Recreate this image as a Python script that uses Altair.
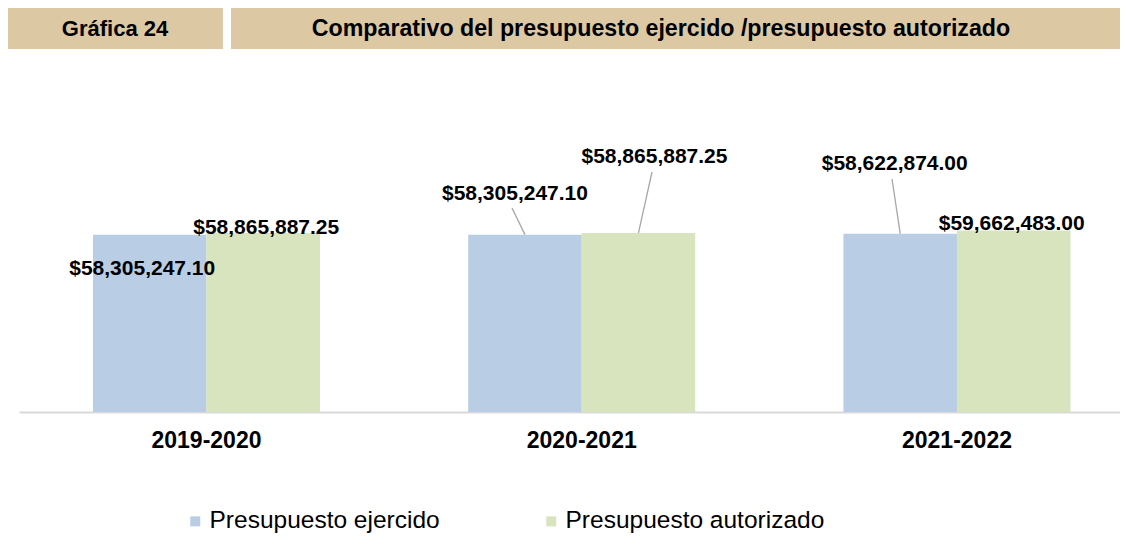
import altair as alt
import pandas as pd

# ---- data ----
periodos = ["2019-2020", "2020-2021", "2021-2022"]
series = ["Presupuesto ejercido", "Presupuesto autorizado"]
ejercido = [58305247.10, 58305247.10, 58622874.00]
autorizado = [58865887.25, 58865887.25, 59662483.00]
header_texts = ["Gráfica 24", "Comparativo del presupuesto ejercido /presupuesto autorizado"]

colores = ["#B9CDE5", "#D7E4BD"]
FONT = "Liberation Sans"

rows = []
for i, p in enumerate(periodos):
    rows.append({"periodo": p, "serie": series[0], "valor": ejercido[i]})
    rows.append({"periodo": p, "serie": series[1], "valor": autorizado[i]})
df = pd.DataFrame(rows)

x_enc = alt.X(
    "periodo:N",
    sort=periodos,
    scale=alt.Scale(paddingInner=0.395, paddingOuter=0.1645, align=0.599),
    axis=alt.Axis(
        title=None, labelAngle=0, labelFont=FONT, labelFontSize=23,
        labelFontWeight="bold", labelColor="#000000", ticks=False,
        domainColor="#D9D9D9", domainWidth=2, labelPadding=17, grid=False,
    ),
)
xo_enc = alt.XOffset("serie:N", sort=series, scale=alt.Scale(paddingInner=0, paddingOuter=0))
y_enc = alt.Y("valor:Q", scale=alt.Scale(domain=[0, 120000000], nice=False), axis=None)

base = alt.Chart(df)

bars = base.mark_bar().encode(
    x=x_enc,
    xOffset=xo_enc,
    y=y_enc,
    color=alt.Color(
        "serie:N", sort=series,
        scale=alt.Scale(domain=series, range=colores),
        legend=alt.Legend(
            title=None, orient="none", legendX=164, legendY=462,
            direction="horizontal", symbolType="square", symbolSize=100,
            symbolStrokeWidth=0, labelFont=FONT, labelFontSize=24.5,
            labelColor="#000000", labelOffset=2, columnPadding=99,
            labelLimit=400,
        ),
    ),
)


def sel(p, s):
    return f"datum.periodo == '{p}' && datum.serie == '{s}'"


def label(p, s, dx, dy):
    return base.transform_filter(sel(p, s)).mark_text(
        font=FONT, fontSize=21, fontWeight="bold", color="#000000",
        align="center", baseline="middle", dx=dx, dy=dy,
    ).encode(x=x_enc, xOffset=xo_enc, y=y_enc, text=alt.Text("valor:Q", format="$,.2f"))


def leader(p, s, x2, y2):
    return base.transform_filter(sel(p, s)).mark_rule(
        color="#A6A6A6", strokeWidth=1.3
    ).encode(x=x_enc, xOffset=xo_enc, y=y_enc, x2=alt.value(x2), y2=alt.value(y2))


labels = [
    label(periodos[0], series[0], -7.5, 34),
    label(periodos[0], series[1], 3, -5),
    label(periodos[1], series[0], -10, -41),
    label(periodos[1], series[1], 16, -76),
    label(periodos[2], series[0], -5.5, -70),
    label(periodos[2], series[1], -2, -7),
]
leaders = [
    leader(periodos[1], series[0], 493, 161),
    leader(periodos[1], series[1], 633, 125),
    leader(periodos[2], series[0], 873, 132),
]

hdr = pd.DataFrame({"t": header_texts})
header_color = "#DCC8A2"
first = f"datum.t == '{header_texts[0]}'"
box1 = alt.Chart(hdr).transform_filter(first).mark_rect(color=header_color).encode(
    x=alt.value(-11), x2=alt.value(204), y=alt.value(-39), y2=alt.value(2))
box2 = alt.Chart(hdr).transform_filter(first).mark_rect(color=header_color).encode(
    x=alt.value(212), x2=alt.value(1101), y=alt.value(-39), y2=alt.value(2))
t1 = alt.Chart(hdr).transform_filter(first).mark_text(
    font=FONT, fontSize=22, fontWeight="bold", color="#000000", align="center", baseline="middle"
).encode(x=alt.value(96), y=alt.value(-18.5), text="t:N")
t2 = alt.Chart(hdr).transform_filter("datum.t != '" + header_texts[0] + "'").mark_text(
    font=FONT, fontSize=23.2, fontWeight="bold", color="#000000", align="center", baseline="middle"
).encode(x=alt.value(642), y=alt.value(-18.5), text="t:N")

chart = alt.layer(box1, box2, t1, t2, bars, *leaders, *labels).properties(
    width=1101, height=365,
    padding={"left": 11, "top": 39, "right": 0, "bottom": 126},
    autosize=alt.AutoSizeParams(type="none"),
    background="white",
).configure_view(stroke="transparent", strokeWidth=0)

chart.save("out.html", embed_options={"renderer": "svg", "actions": False})
